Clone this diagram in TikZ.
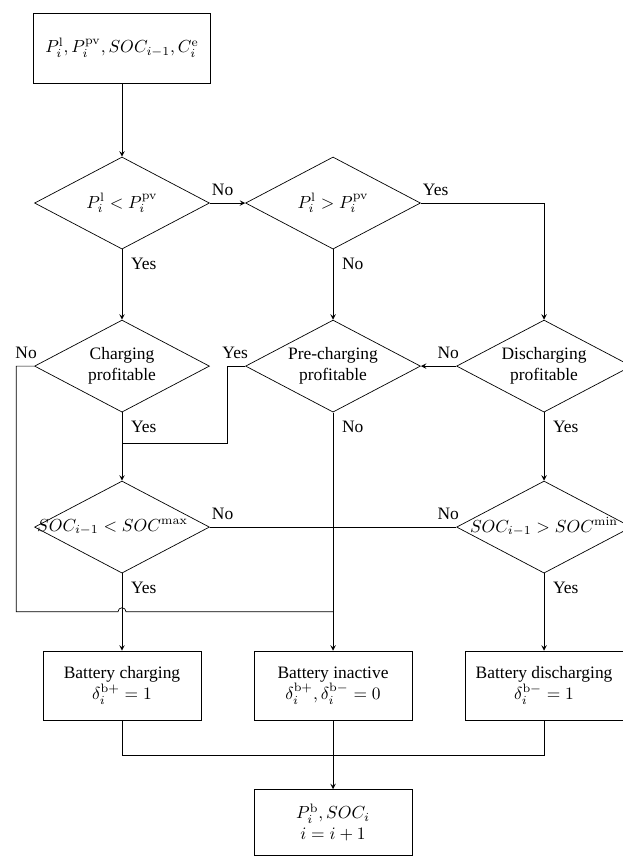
\documentclass[tikz,border=0pt]{standalone}
\usepackage{amsmath,amssymb}
\usepackage[no-math]{fontspec}
\setmainfont{Liberation Serif}
\usepackage{tikz}
\usetikzlibrary{shapes,arrows,calc}

\begin{document}
\begin{tikzpicture}[x=0.5734pt, y=-0.5734pt, node distance=93.5pt]
    \tikzstyle{io} = [rectangle, draw, text centered, minimum width=101.5pt, minimum height=40.1pt]
    \tikzstyle{decision} = [diamond, draw, aspect=1.9, inner sep=0pt, minimum width=100.3pt, minimum height=52.8pt, align=center]
    \tikzstyle{state} = [rectangle, draw, align=center, minimum width=90.6pt, minimum height=39.6pt]
    \tikzstyle{arrow} = [->,>=stealth]
    \tikzstyle{lab} = [inner sep=2pt, text depth=0pt]
    \tikzstyle{labdown} = [lab, pos=0, anchor=north west, xshift=3pt, yshift=-3pt]
    \tikzstyle{labright} = [lab, pos=0, anchor=south west, xshift=-1pt, yshift=2pt]
    \tikzstyle{lableft} = [lab, pos=0, anchor=south east, xshift=3.7pt, yshift=2pt]

    \useasboundingbox (0,0) rectangle (622,856);

    % Inputs
    \node [io] (input) at (122,48) {$P_i^{\mathrm{l}}, P_i^{\mathrm{pv}}, SOC_{i-1}, C_i^{\mathrm{e}}$};

    % Load vs. PV
    \node [decision, below of=input, node distance=88.9pt] (surplus) {$P_i^{\mathrm{l}} < P_i^{\mathrm{pv}}$};
    \node [decision, right of=surplus, node distance=121pt] (deficit) {$P_i^{\mathrm{l}} > P_i^{\mathrm{pv}}$};

    % Profitability
    \node [decision, below of=surplus] (charge) {Charging\\profitable};
    \node [decision, below of=deficit] (precharge) {Pre-charging\\profitable};
    \node [decision, right of=precharge, node distance=121pt] (discharge) {Discharging\\profitable};

    % SOC limits
    \node [decision, below of=charge, node distance=92.3pt] (socmax) {\makebox[0pt]{$SOC_{i-1} < SOC^{\mathrm{max}}$\hspace{11pt}}};
    \node [decision, below of=discharge, node distance=92.3pt] (socmin) {\makebox[0pt]{$SOC_{i-1} > SOC^{\mathrm{min}}$}};

    % Battery states
    \node [state, below of=socmax, node distance=90.9pt] (charging) {Battery charging\\$\delta_i^{\mathrm{b}+} = 1$};
    \node [state, right of=charging, node distance=121pt] (inactive) {Battery inactive\\$\delta_i^{\mathrm{b}+}, \delta_i^{\mathrm{b}-} = 0$};
    \node [state, right of=inactive, node distance=121pt] (discharging) {Battery discharging\\$\delta_i^{\mathrm{b}-} = 1$};

    % Outputs
    \node [state, below of=inactive, node distance=78.5pt, minimum height=37.8pt] (output) {$P_i^{\mathrm{b}}, SOC_i$\\$i = i + 1$};

    % Helper points
    \coordinate (join) at ($(charge.south)+(0,31)$);
    \coordinate (bypass) at ($(charging.north)+(0,-39)$);
    \coordinate (merge) at ($(inactive.south)!0.5!(output.north)$);

    % Connections
    \draw [arrow] (input) -- (surplus);
    \draw [arrow] (surplus) -- node [labright] {No} (deficit);
    \draw [arrow] (deficit) -| node [labright] {Yes} (discharge);
    \draw [arrow] (surplus) -- node [labdown] {Yes} (charge);
    \draw [arrow] (deficit) -- node [labdown] {No} (precharge);

    \draw (charge.west) -- node [lableft] {No} ++(-18,0) |- ($(bypass)+(-4,0)$) arc (180:360:4) -- (bypass -| inactive);
    \draw (precharge.west) -- node [lableft] {Yes} ++(-18,0) |- (join);
    \draw [arrow] (discharge) -- node [lableft] {No} (precharge);
    \draw [arrow] (charge) -- node [labdown] {Yes} (socmax);
    \draw [arrow] (precharge) -- node [labdown] {No} (inactive);
    \draw [arrow] (discharge) -- node [labdown] {Yes} (socmin);

    \draw (socmax) -- node [labright] {No} node [lableft, pos=1] {No} (socmin);
    \draw [arrow] (socmax) -- node [labdown] {Yes} (charging);
    \draw [arrow] (socmin) -- node [labdown] {Yes} (discharging);

    \draw (charging) |- (merge) -| (discharging);
    \draw [arrow] (inactive) -- (output);
\end{tikzpicture}
\end{document}
